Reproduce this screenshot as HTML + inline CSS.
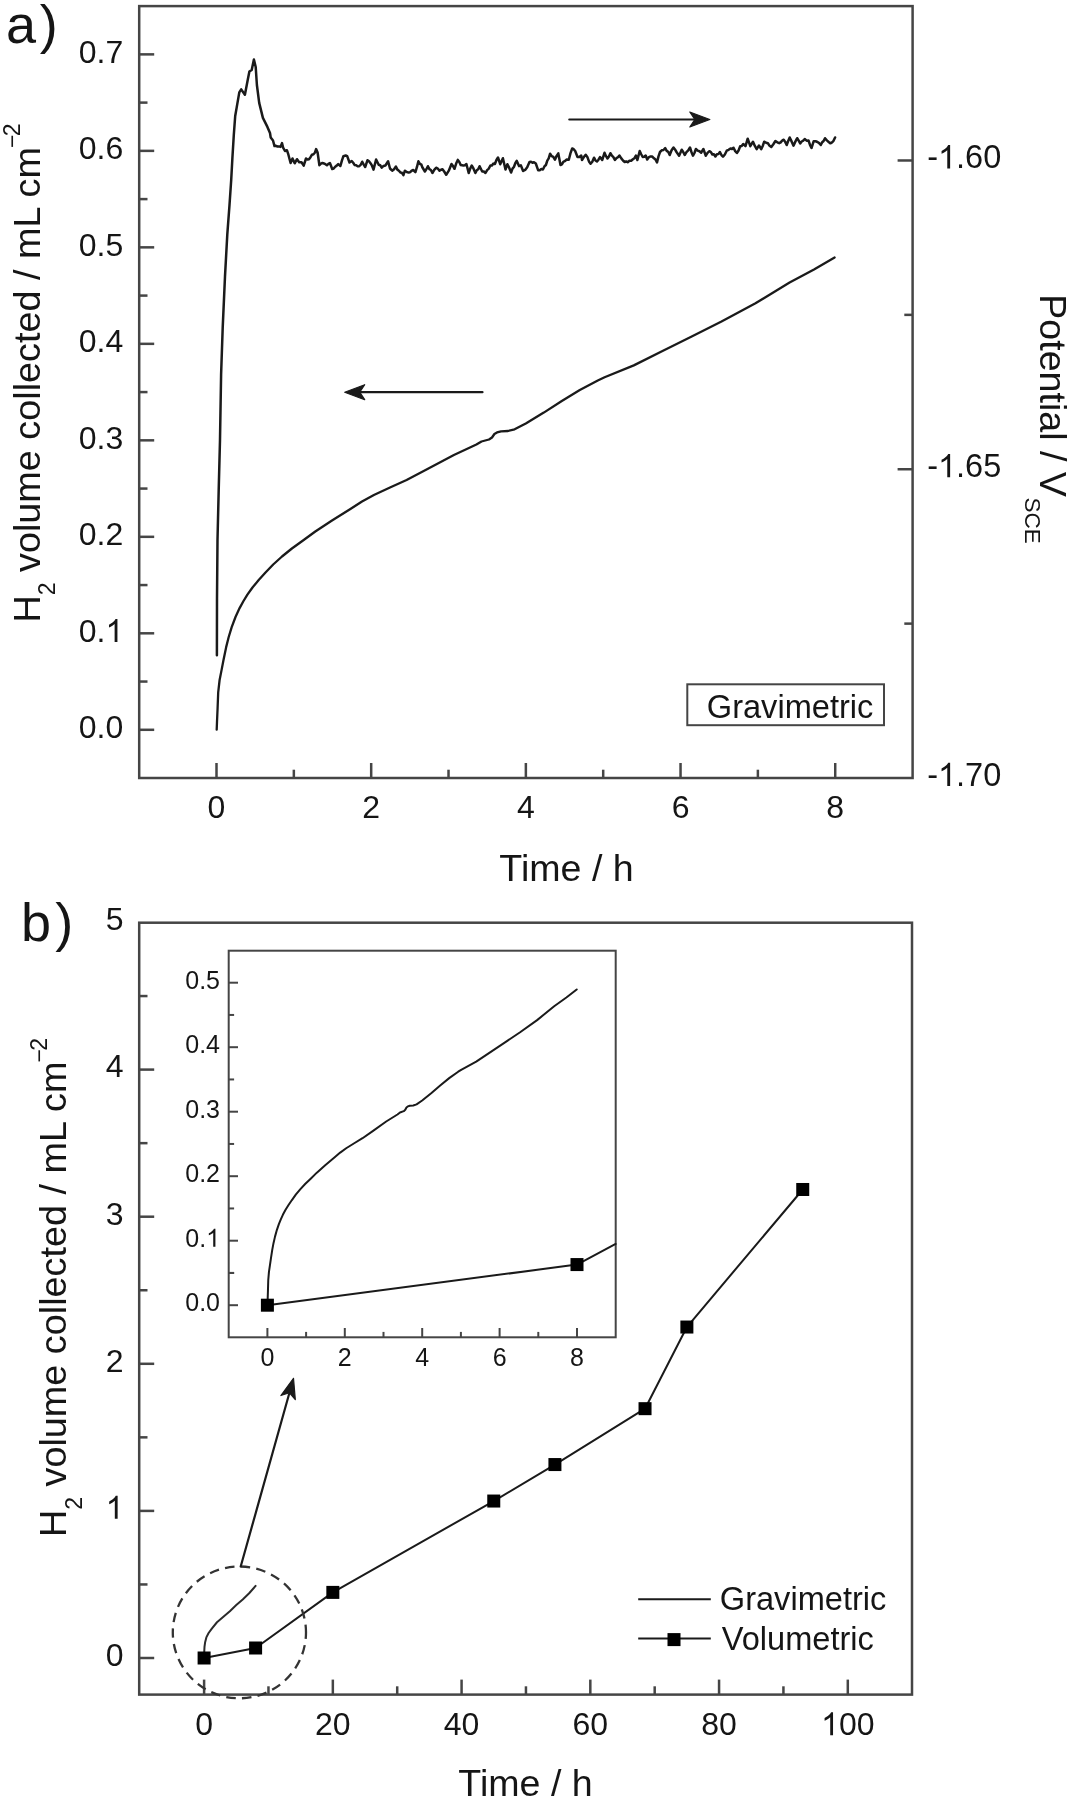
<!DOCTYPE html>
<html><head><meta charset="utf-8"><style>
html,body{margin:0;padding:0;background:#fff;width:1068px;height:1800px;overflow:hidden}
svg{display:block;font-family:"Liberation Sans", sans-serif;will-change:transform}
</style></head><body>
<svg width="1068" height="1800" viewBox="0 0 1068 1800">
<rect width="1068" height="1800" fill="#fff"/>
<rect x="139.2" y="6.1" width="773.40" height="771.90" fill="none" stroke="#454545" stroke-width="2.5"/>
<line x1="139.20" y1="729.80" x2="154.20" y2="729.80" stroke="#454545" stroke-width="2.5" stroke-linecap="butt"/>
<text x="78.82" y="738.40" font-size="32" text-anchor="start" fill="#151515" >0.0</text>
<line x1="139.20" y1="633.31" x2="154.20" y2="633.31" stroke="#454545" stroke-width="2.5" stroke-linecap="butt"/>
<text x="78.82" y="641.91" font-size="32" text-anchor="start" fill="#151515" >0.</text>
<path d="M763,0 L583,0 L583,1147 Q518,1085 465,1054 Q412,1023 359,992 Q306,961 223,930 L223,1104 Q372,1174 428,1224 Q484,1274 540,1324 Q596,1374 643,1472 L763,1472 Z" fill="#151515" transform="translate(105.51,641.91) scale(0.015625,-0.015625)"/>
<line x1="139.20" y1="536.82" x2="154.20" y2="536.82" stroke="#454545" stroke-width="2.5" stroke-linecap="butt"/>
<text x="78.82" y="545.42" font-size="32" text-anchor="start" fill="#151515" >0.2</text>
<line x1="139.20" y1="440.33" x2="154.20" y2="440.33" stroke="#454545" stroke-width="2.5" stroke-linecap="butt"/>
<text x="78.82" y="448.93" font-size="32" text-anchor="start" fill="#151515" >0.3</text>
<line x1="139.20" y1="343.84" x2="154.20" y2="343.84" stroke="#454545" stroke-width="2.5" stroke-linecap="butt"/>
<text x="78.82" y="352.44" font-size="32" text-anchor="start" fill="#151515" >0.4</text>
<line x1="139.20" y1="247.35" x2="154.20" y2="247.35" stroke="#454545" stroke-width="2.5" stroke-linecap="butt"/>
<text x="78.82" y="255.95" font-size="32" text-anchor="start" fill="#151515" >0.5</text>
<line x1="139.20" y1="150.86" x2="154.20" y2="150.86" stroke="#454545" stroke-width="2.5" stroke-linecap="butt"/>
<text x="78.82" y="159.46" font-size="32" text-anchor="start" fill="#151515" >0.6</text>
<line x1="139.20" y1="54.37" x2="154.20" y2="54.37" stroke="#454545" stroke-width="2.5" stroke-linecap="butt"/>
<text x="78.82" y="62.97" font-size="32" text-anchor="start" fill="#151515" >0.7</text>
<line x1="139.20" y1="681.55" x2="147.50" y2="681.55" stroke="#454545" stroke-width="2.5" stroke-linecap="butt"/>
<line x1="139.20" y1="585.06" x2="147.50" y2="585.06" stroke="#454545" stroke-width="2.5" stroke-linecap="butt"/>
<line x1="139.20" y1="488.57" x2="147.50" y2="488.57" stroke="#454545" stroke-width="2.5" stroke-linecap="butt"/>
<line x1="139.20" y1="392.08" x2="147.50" y2="392.08" stroke="#454545" stroke-width="2.5" stroke-linecap="butt"/>
<line x1="139.20" y1="295.59" x2="147.50" y2="295.59" stroke="#454545" stroke-width="2.5" stroke-linecap="butt"/>
<line x1="139.20" y1="199.10" x2="147.50" y2="199.10" stroke="#454545" stroke-width="2.5" stroke-linecap="butt"/>
<line x1="139.20" y1="102.61" x2="147.50" y2="102.61" stroke="#454545" stroke-width="2.5" stroke-linecap="butt"/>
<line x1="216.50" y1="778.00" x2="216.50" y2="763.00" stroke="#454545" stroke-width="2.5" stroke-linecap="butt"/>
<text x="207.60" y="817.60" font-size="32" text-anchor="start" fill="#151515" >0</text>
<line x1="371.18" y1="778.00" x2="371.18" y2="763.00" stroke="#454545" stroke-width="2.5" stroke-linecap="butt"/>
<text x="362.28" y="817.60" font-size="32" text-anchor="start" fill="#151515" >2</text>
<line x1="525.86" y1="778.00" x2="525.86" y2="763.00" stroke="#454545" stroke-width="2.5" stroke-linecap="butt"/>
<text x="516.96" y="817.60" font-size="32" text-anchor="start" fill="#151515" >4</text>
<line x1="680.54" y1="778.00" x2="680.54" y2="763.00" stroke="#454545" stroke-width="2.5" stroke-linecap="butt"/>
<text x="671.64" y="817.60" font-size="32" text-anchor="start" fill="#151515" >6</text>
<line x1="835.22" y1="778.00" x2="835.22" y2="763.00" stroke="#454545" stroke-width="2.5" stroke-linecap="butt"/>
<text x="826.32" y="817.60" font-size="32" text-anchor="start" fill="#151515" >8</text>
<line x1="293.84" y1="778.00" x2="293.84" y2="769.70" stroke="#454545" stroke-width="2.5" stroke-linecap="butt"/>
<line x1="448.52" y1="778.00" x2="448.52" y2="769.70" stroke="#454545" stroke-width="2.5" stroke-linecap="butt"/>
<line x1="603.20" y1="778.00" x2="603.20" y2="769.70" stroke="#454545" stroke-width="2.5" stroke-linecap="butt"/>
<line x1="757.88" y1="778.00" x2="757.88" y2="769.70" stroke="#454545" stroke-width="2.5" stroke-linecap="butt"/>
<line x1="912.60" y1="160.48" x2="897.60" y2="160.48" stroke="#454545" stroke-width="2.5" stroke-linecap="butt"/>
<text x="927.20" y="168.48" font-size="32.5" text-anchor="start" fill="#151515" >-</text>
<path d="M763,0 L583,0 L583,1147 Q518,1085 465,1054 Q412,1023 359,992 Q306,961 223,930 L223,1104 Q372,1174 428,1224 Q484,1274 540,1324 Q596,1374 643,1472 L763,1472 Z" fill="#151515" transform="translate(938.02,168.48) scale(0.015869,-0.015869)"/>
<text x="956.09" y="168.48" font-size="32.5" text-anchor="start" fill="#151515" >.60</text>
<line x1="912.60" y1="469.24" x2="897.60" y2="469.24" stroke="#454545" stroke-width="2.5" stroke-linecap="butt"/>
<text x="927.20" y="477.24" font-size="32.5" text-anchor="start" fill="#151515" >-</text>
<path d="M763,0 L583,0 L583,1147 Q518,1085 465,1054 Q412,1023 359,992 Q306,961 223,930 L223,1104 Q372,1174 428,1224 Q484,1274 540,1324 Q596,1374 643,1472 L763,1472 Z" fill="#151515" transform="translate(938.02,477.24) scale(0.015869,-0.015869)"/>
<text x="956.09" y="477.24" font-size="32.5" text-anchor="start" fill="#151515" >.65</text>
<text x="927.20" y="786.00" font-size="32.5" text-anchor="start" fill="#151515" >-</text>
<path d="M763,0 L583,0 L583,1147 Q518,1085 465,1054 Q412,1023 359,992 Q306,961 223,930 L223,1104 Q372,1174 428,1224 Q484,1274 540,1324 Q596,1374 643,1472 L763,1472 Z" fill="#151515" transform="translate(938.02,786.00) scale(0.015869,-0.015869)"/>
<text x="956.09" y="786.00" font-size="32.5" text-anchor="start" fill="#151515" >.70</text>
<line x1="912.60" y1="314.86" x2="904.30" y2="314.86" stroke="#454545" stroke-width="2.5" stroke-linecap="butt"/>
<line x1="912.60" y1="623.62" x2="904.30" y2="623.62" stroke="#454545" stroke-width="2.5" stroke-linecap="butt"/>
<text x="566.50" y="880.70" font-size="37.6" text-anchor="middle" fill="#151515" >Time / h</text>
<text transform="translate(39.5,622.6) rotate(-90)" font-size="37.8" fill="#151515">H<tspan font-size="23" dy="15.7">2</tspan><tspan dy="-15.7"> volume collected / mL cm</tspan><tspan font-size="23" dy="-19.4" dx="-1">−</tspan><tspan font-size="23" dx="-1.6">2</tspan></text>
<text transform="translate(1039.5,294.3) rotate(90)" font-size="37.6" fill="#151515">Potential / V<tspan font-size="22.5" dy="15" dx="0.5">SCE</tspan></text>
<text x="6.00" y="42.50" font-size="54" text-anchor="start" fill="#151515" >a<tspan dx="3.8">)</tspan></text>
<rect x="687.3" y="684.3" width="196.7" height="40.9" fill="none" stroke="#454545" stroke-width="2"/>
<text x="706.80" y="718.00" font-size="32.6" text-anchor="start" fill="#151515" >Gravimetric</text>
<line x1="569.30" y1="119.50" x2="694.80" y2="119.50" stroke="#1a1a1a" stroke-width="2.2" stroke-linecap="round"/>
<path d="M709.80,119.50 L689.80,127.00 L694.80,119.50 L689.80,112.00 Z" fill="#1a1a1a" stroke="#1a1a1a" stroke-width="1.2" stroke-linejoin="round"/>
<line x1="482.50" y1="392.20" x2="359.70" y2="392.20" stroke="#1a1a1a" stroke-width="2.2" stroke-linecap="round"/>
<path d="M344.70,392.20 L364.70,384.70 L359.70,392.20 L364.70,399.70 Z" fill="#1a1a1a" stroke="#1a1a1a" stroke-width="1.2" stroke-linejoin="round"/>
<path d="M216.90,655.30 L217.00,598.30 L217.50,540.00 L218.70,490.00 L220.00,440.00 L221.10,374.40 L222.70,327.70 L225.00,276.40 L227.30,234.40 L229.50,205.00 L231.20,180.00 L232.40,158.00 L233.80,135.00 L235.20,116.00 L236.70,107.40 L239.30,92.40 L241.20,89.40 L244.90,94.70 L247.90,79.00 L249.40,71.50 L251.70,70.00 L253.90,59.50 L255.70,67.00 L256.90,85.00 L259.20,102.90 L262.90,117.90 L267.40,126.90 L270.00,133.00 L270.70,137.50 L273.00,140.50 L274.50,146.10 L276.00,145.84 L277.50,146.50 L279.00,146.38 L280.50,146.90 L282.00,143.10 L283.10,147.60 L285.00,151.00 L286.90,150.20 L288.40,154.70 L290.60,163.00 L292.50,158.50 L294.70,163.30 L297.00,159.20 L299.20,162.20 L301.50,162.20 L303.70,165.60 L306.00,158.50 L307.50,159.57 L309.00,159.20 L310.50,157.21 L312.00,154.70 L313.50,154.23 L315.00,152.50 L316.10,149.10 L317.60,152.50 L319.40,165.20 L320.90,163.61 L322.40,163.00 L324.70,163.70 L326.90,165.20 L328.40,163.85 L329.90,163.00 L332.20,169.00 L333.70,168.46 L335.20,166.70 L336.70,165.63 L338.20,164.10 L340.40,166.00 L341.90,160.55 L343.40,156.20 L345.70,155.50 L347.20,156.10 L349.50,162.50 L351.70,161.00 L353.20,162.79 L354.70,165.10 L356.20,165.19 L357.70,166.37 L359.20,166.20 L360.70,164.81 L362.20,161.70 L363.70,164.65 L365.20,167.00 L367.50,160.20 L369.00,161.32 L370.50,163.20 L372.00,165.70 L373.50,169.60 L376.10,159.50 L378.70,164.70 L380.20,165.24 L381.70,167.70 L383.55,165.94 L385.40,165.50 L388.10,161.30 L390.00,168.50 L392.20,170.70 L394.05,169.17 L395.90,166.60 L397.40,169.63 L398.90,170.70 L400.40,172.44 L401.90,172.81 L403.40,175.20 L404.90,170.70 L406.80,172.08 L408.70,172.60 L410.20,172.05 L411.70,170.57 L413.20,170.00 L415.40,172.20 L416.90,167.20 L418.40,161.30 L419.90,163.85 L421.40,164.70 L422.20,167.00 L424.90,171.50 L426.40,169.19 L427.90,166.20 L429.40,169.13 L430.90,170.02 L432.40,173.00 L434.25,169.85 L436.10,167.70 L437.80,168.56 L439.50,170.70 L441.00,169.70 L442.50,169.20 L444.35,171.75 L446.20,174.80 L448.80,170.70 L451.50,164.00 L453.00,166.04 L454.50,168.80 L456.15,163.61 L457.80,159.90 L459.30,161.96 L460.80,165.10 L463.40,165.50 L464.90,165.20 L466.40,164.00 L468.70,173.00 L470.20,168.58 L471.70,165.50 L473.55,168.69 L475.40,173.00 L476.80,170.29 L478.20,169.30 L479.60,166.20 L482.20,171.50 L483.85,171.49 L485.50,173.00 L487.13,170.10 L488.77,168.66 L490.40,165.50 L491.90,165.62 L493.40,163.60 L494.90,164.00 L496.45,159.97 L498.00,157.50 L500.20,164.20 L502.90,158.20 L505.50,169.50 L507.40,164.20 L509.25,167.92 L511.10,172.50 L512.50,168.59 L513.90,166.94 L515.30,163.19 L516.70,160.80 L519.00,166.10 L520.80,165.30 L523.10,171.00 L525.15,169.91 L527.20,167.20 L529.50,162.00 L531.00,161.78 L532.50,162.79 L534.00,162.30 L535.80,163.50 L538.10,170.20 L539.70,170.20 L541.30,169.00 L542.90,169.50 L544.40,166.44 L545.90,165.00 L547.30,160.57 L548.70,158.37 L550.10,153.70 L551.70,156.15 L553.30,156.94 L554.90,159.70 L556.60,155.87 L558.30,153.40 L560.50,165.00 L561.90,164.40 L563.30,161.90 L564.70,161.20 L566.75,159.58 L568.80,159.70 L570.50,153.14 L572.20,148.50 L573.70,149.17 L575.20,151.00 L577.50,157.00 L579.35,156.98 L581.20,155.50 L582.00,160.00 L583.85,157.10 L585.70,154.70 L587.33,156.94 L588.97,161.42 L590.60,163.70 L592.30,161.69 L594.00,157.70 L595.50,160.46 L597.00,161.50 L598.50,159.68 L600.00,157.00 L602.20,160.00 L604.50,152.80 L606.00,156.16 L607.50,158.50 L608.95,156.58 L610.40,153.20 L611.90,155.68 L613.40,157.16 L614.90,160.00 L616.40,158.17 L617.90,157.29 L619.40,155.50 L621.30,158.35 L623.20,160.70 L624.70,162.01 L626.20,161.40 L627.70,162.20 L629.43,160.80 L631.17,160.71 L632.90,159.20 L634.40,158.25 L635.90,155.50 L637.40,160.00 L639.70,151.00 L641.20,154.26 L642.70,157.00 L644.20,156.81 L645.70,155.50 L647.20,159.50 L648.70,157.36 L650.20,156.50 L652.10,156.49 L654.00,158.30 L655.50,159.54 L657.00,162.50 L658.50,156.36 L660.00,152.00 L661.73,150.31 L663.47,150.00 L665.20,148.20 L666.70,150.95 L668.20,151.83 L669.70,155.00 L671.60,150.28 L673.50,147.50 L675.00,149.43 L676.50,152.00 L679.10,155.70 L681.70,149.70 L683.20,152.01 L684.70,155.00 L686.47,152.11 L688.23,150.39 L690.00,147.50 L691.50,152.19 L693.00,155.70 L694.45,153.02 L695.90,149.00 L697.67,150.64 L699.43,151.26 L701.20,152.70 L703.40,149.00 L705.70,155.70 L707.55,152.91 L709.40,151.20 L710.90,152.03 L712.40,154.50 L713.90,154.21 L715.40,156.50 L716.90,154.25 L718.40,154.11 L719.90,152.00 L721.45,155.04 L723.00,156.70 L724.85,154.44 L726.70,150.70 L728.60,149.84 L730.50,148.50 L732.00,149.02 L733.50,147.70 L735.20,151.17 L736.90,153.00 L738.55,150.50 L740.20,146.20 L741.70,145.94 L743.20,144.00 L745.50,146.20 L747.70,138.70 L750.30,146.20 L753.00,141.70 L754.85,145.96 L756.70,149.20 L759.00,145.50 L761.20,149.20 L762.70,145.97 L764.20,141.70 L766.05,142.73 L767.90,143.20 L769.60,145.81 L771.30,147.00 L773.35,144.25 L775.40,141.00 L777.30,142.35 L779.20,143.20 L780.70,142.40 L782.20,140.54 L783.70,139.70 L785.20,141.88 L786.70,145.00 L788.20,141.01 L789.70,137.50 L791.60,141.40 L793.50,145.70 L795.35,141.63 L797.20,138.20 L798.70,140.57 L800.20,143.50 L801.70,141.51 L803.20,140.72 L804.70,139.00 L806.60,140.65 L808.50,140.50 L810.00,144.94 L811.50,148.00 L813.70,141.20 L815.60,141.28 L817.50,142.00 L819.15,143.10 L820.80,145.00 L822.20,142.26 L823.60,140.96 L825.00,138.20 L826.85,140.40 L828.70,142.00 L830.20,143.23 L831.70,142.70 L833.40,141.09 L835.10,137.50" fill="none" stroke="#1a1a1a" stroke-width="2.5" stroke-linejoin="round" stroke-linecap="round" />
<path d="M216.70,729.60 L217.00,722.00 L217.60,708.00 L218.20,692.40 L219.60,680.00 L221.60,669.90 L223.50,660.00 L226.10,647.40 L228.70,637.00 L231.70,627.20 L235.50,617.00 L239.60,608.10 L243.50,601.00 L247.40,594.60 L252.50,587.50 L258.70,580.00 L265.50,572.50 L273.20,564.50 L282.00,556.50 L291.90,548.50 L303.00,540.50 L315.30,531.50 L332.00,520.50 L350.40,509.00 L362.00,501.50 L373.90,495.00 L390.00,487.50 L406.60,480.00 L427.00,469.30 L453.90,455.00 L476.40,444.50 L481.50,441.50 L489.00,439.50 L492.00,437.50 L494.40,434.00 L497.00,432.40 L501.10,431.40 L508.00,431.00 L514.60,429.30 L525.80,423.50 L543.80,412.60 L561.80,401.00 L579.80,390.10 L597.80,380.50 L604.60,377.30 L633.80,365.40 L663.00,350.80 L692.20,336.20 L721.50,321.50 L755.50,303.30 L789.60,282.60 L814.00,269.50 L834.60,257.50" fill="none" stroke="#1a1a1a" stroke-width="2.3" stroke-linejoin="round" stroke-linecap="round" />
<rect x="139.2" y="922.7" width="772.80" height="771.90" fill="none" stroke="#454545" stroke-width="2.5"/>
<line x1="139.20" y1="1658.00" x2="154.20" y2="1658.00" stroke="#454545" stroke-width="2.5" stroke-linecap="butt"/>
<text x="105.71" y="1665.80" font-size="32" text-anchor="start" fill="#151515" >0</text>
<line x1="139.20" y1="1510.90" x2="154.20" y2="1510.90" stroke="#454545" stroke-width="2.5" stroke-linecap="butt"/>
<path d="M763,0 L583,0 L583,1147 Q518,1085 465,1054 Q412,1023 359,992 Q306,961 223,930 L223,1104 Q372,1174 428,1224 Q484,1274 540,1324 Q596,1374 643,1472 L763,1472 Z" fill="#151515" transform="translate(105.71,1518.70) scale(0.015625,-0.015625)"/>
<line x1="139.20" y1="1363.80" x2="154.20" y2="1363.80" stroke="#454545" stroke-width="2.5" stroke-linecap="butt"/>
<text x="105.71" y="1371.60" font-size="32" text-anchor="start" fill="#151515" >2</text>
<line x1="139.20" y1="1216.70" x2="154.20" y2="1216.70" stroke="#454545" stroke-width="2.5" stroke-linecap="butt"/>
<text x="105.71" y="1224.50" font-size="32" text-anchor="start" fill="#151515" >3</text>
<line x1="139.20" y1="1069.60" x2="154.20" y2="1069.60" stroke="#454545" stroke-width="2.5" stroke-linecap="butt"/>
<text x="105.71" y="1077.40" font-size="32" text-anchor="start" fill="#151515" >4</text>
<text x="105.71" y="930.30" font-size="32" text-anchor="start" fill="#151515" >5</text>
<line x1="139.20" y1="1584.45" x2="147.50" y2="1584.45" stroke="#454545" stroke-width="2.5" stroke-linecap="butt"/>
<line x1="139.20" y1="1437.35" x2="147.50" y2="1437.35" stroke="#454545" stroke-width="2.5" stroke-linecap="butt"/>
<line x1="139.20" y1="1290.25" x2="147.50" y2="1290.25" stroke="#454545" stroke-width="2.5" stroke-linecap="butt"/>
<line x1="139.20" y1="1143.15" x2="147.50" y2="1143.15" stroke="#454545" stroke-width="2.5" stroke-linecap="butt"/>
<line x1="139.20" y1="996.05" x2="147.50" y2="996.05" stroke="#454545" stroke-width="2.5" stroke-linecap="butt"/>
<line x1="204.10" y1="1694.60" x2="204.10" y2="1679.60" stroke="#454545" stroke-width="2.5" stroke-linecap="butt"/>
<text x="195.20" y="1735.20" font-size="32" text-anchor="start" fill="#151515" >0</text>
<line x1="332.84" y1="1694.60" x2="332.84" y2="1679.60" stroke="#454545" stroke-width="2.5" stroke-linecap="butt"/>
<text x="315.05" y="1735.20" font-size="32" text-anchor="start" fill="#151515" >20</text>
<line x1="461.58" y1="1694.60" x2="461.58" y2="1679.60" stroke="#454545" stroke-width="2.5" stroke-linecap="butt"/>
<text x="443.79" y="1735.20" font-size="32" text-anchor="start" fill="#151515" >40</text>
<line x1="590.32" y1="1694.60" x2="590.32" y2="1679.60" stroke="#454545" stroke-width="2.5" stroke-linecap="butt"/>
<text x="572.53" y="1735.20" font-size="32" text-anchor="start" fill="#151515" >60</text>
<line x1="719.06" y1="1694.60" x2="719.06" y2="1679.60" stroke="#454545" stroke-width="2.5" stroke-linecap="butt"/>
<text x="701.27" y="1735.20" font-size="32" text-anchor="start" fill="#151515" >80</text>
<line x1="847.80" y1="1694.60" x2="847.80" y2="1679.60" stroke="#454545" stroke-width="2.5" stroke-linecap="butt"/>
<path d="M763,0 L583,0 L583,1147 Q518,1085 465,1054 Q412,1023 359,992 Q306,961 223,930 L223,1104 Q372,1174 428,1224 Q484,1274 540,1324 Q596,1374 643,1472 L763,1472 Z" fill="#151515" transform="translate(821.11,1735.20) scale(0.015625,-0.015625)"/>
<text x="838.90" y="1735.20" font-size="32" text-anchor="start" fill="#151515" >00</text>
<line x1="268.47" y1="1694.60" x2="268.47" y2="1686.30" stroke="#454545" stroke-width="2.5" stroke-linecap="butt"/>
<line x1="397.21" y1="1694.60" x2="397.21" y2="1686.30" stroke="#454545" stroke-width="2.5" stroke-linecap="butt"/>
<line x1="525.95" y1="1694.60" x2="525.95" y2="1686.30" stroke="#454545" stroke-width="2.5" stroke-linecap="butt"/>
<line x1="654.69" y1="1694.60" x2="654.69" y2="1686.30" stroke="#454545" stroke-width="2.5" stroke-linecap="butt"/>
<line x1="783.43" y1="1694.60" x2="783.43" y2="1686.30" stroke="#454545" stroke-width="2.5" stroke-linecap="butt"/>
<text x="525.50" y="1796.20" font-size="37.6" text-anchor="middle" fill="#151515" >Time / h</text>
<text transform="translate(65.9,1537.1) rotate(-90)" font-size="37.8" fill="#151515">H<tspan font-size="23" dy="15.7">2</tspan><tspan dy="-15.7"> volume collected / mL cm</tspan><tspan font-size="23" dy="-19.4" dx="-1">−</tspan><tspan font-size="23" dx="-1.6">2</tspan></text>
<text x="21.00" y="940.50" font-size="54" text-anchor="start" fill="#151515" >b<tspan dx="4.3">)</tspan></text>
<rect x="228.7" y="950.7" width="387.00" height="386.60" fill="none" stroke="#454545" stroke-width="2"/>
<line x1="228.70" y1="1305.20" x2="238.00" y2="1305.20" stroke="#454545" stroke-width="2" stroke-linecap="butt"/>
<text x="185.25" y="1311.20" font-size="25" text-anchor="start" fill="#151515" >0.0</text>
<line x1="228.70" y1="1240.70" x2="238.00" y2="1240.70" stroke="#454545" stroke-width="2" stroke-linecap="butt"/>
<text x="185.25" y="1246.70" font-size="25" text-anchor="start" fill="#151515" >0.</text>
<path d="M763,0 L583,0 L583,1147 Q518,1085 465,1054 Q412,1023 359,992 Q306,961 223,930 L223,1104 Q372,1174 428,1224 Q484,1274 540,1324 Q596,1374 643,1472 L763,1472 Z" fill="#151515" transform="translate(206.10,1246.70) scale(0.012207,-0.012207)"/>
<line x1="228.70" y1="1176.20" x2="238.00" y2="1176.20" stroke="#454545" stroke-width="2" stroke-linecap="butt"/>
<text x="185.25" y="1182.20" font-size="25" text-anchor="start" fill="#151515" >0.2</text>
<line x1="228.70" y1="1111.70" x2="238.00" y2="1111.70" stroke="#454545" stroke-width="2" stroke-linecap="butt"/>
<text x="185.25" y="1117.70" font-size="25" text-anchor="start" fill="#151515" >0.3</text>
<line x1="228.70" y1="1047.20" x2="238.00" y2="1047.20" stroke="#454545" stroke-width="2" stroke-linecap="butt"/>
<text x="185.25" y="1053.20" font-size="25" text-anchor="start" fill="#151515" >0.4</text>
<line x1="228.70" y1="982.70" x2="238.00" y2="982.70" stroke="#454545" stroke-width="2" stroke-linecap="butt"/>
<text x="185.25" y="988.70" font-size="25" text-anchor="start" fill="#151515" >0.5</text>
<line x1="228.70" y1="1272.95" x2="234.10" y2="1272.95" stroke="#454545" stroke-width="2" stroke-linecap="butt"/>
<line x1="228.70" y1="1208.45" x2="234.10" y2="1208.45" stroke="#454545" stroke-width="2" stroke-linecap="butt"/>
<line x1="228.70" y1="1143.95" x2="234.10" y2="1143.95" stroke="#454545" stroke-width="2" stroke-linecap="butt"/>
<line x1="228.70" y1="1079.45" x2="234.10" y2="1079.45" stroke="#454545" stroke-width="2" stroke-linecap="butt"/>
<line x1="228.70" y1="1014.95" x2="234.10" y2="1014.95" stroke="#454545" stroke-width="2" stroke-linecap="butt"/>
<line x1="228.70" y1="1272.95" x2="234.10" y2="1272.95" stroke="#454545" stroke-width="2" stroke-linecap="butt"/>
<line x1="267.40" y1="1337.30" x2="267.40" y2="1328.00" stroke="#454545" stroke-width="2" stroke-linecap="butt"/>
<text x="260.45" y="1365.80" font-size="25" text-anchor="start" fill="#151515" >0</text>
<line x1="344.80" y1="1337.30" x2="344.80" y2="1328.00" stroke="#454545" stroke-width="2" stroke-linecap="butt"/>
<text x="337.85" y="1365.80" font-size="25" text-anchor="start" fill="#151515" >2</text>
<line x1="422.20" y1="1337.30" x2="422.20" y2="1328.00" stroke="#454545" stroke-width="2" stroke-linecap="butt"/>
<text x="415.25" y="1365.80" font-size="25" text-anchor="start" fill="#151515" >4</text>
<line x1="499.60" y1="1337.30" x2="499.60" y2="1328.00" stroke="#454545" stroke-width="2" stroke-linecap="butt"/>
<text x="492.65" y="1365.80" font-size="25" text-anchor="start" fill="#151515" >6</text>
<line x1="577.00" y1="1337.30" x2="577.00" y2="1328.00" stroke="#454545" stroke-width="2" stroke-linecap="butt"/>
<text x="570.05" y="1365.80" font-size="25" text-anchor="start" fill="#151515" >8</text>
<line x1="306.10" y1="1337.30" x2="306.10" y2="1331.90" stroke="#454545" stroke-width="2" stroke-linecap="butt"/>
<line x1="383.50" y1="1337.30" x2="383.50" y2="1331.90" stroke="#454545" stroke-width="2" stroke-linecap="butt"/>
<line x1="460.90" y1="1337.30" x2="460.90" y2="1331.90" stroke="#454545" stroke-width="2" stroke-linecap="butt"/>
<line x1="538.30" y1="1337.30" x2="538.30" y2="1331.90" stroke="#454545" stroke-width="2" stroke-linecap="butt"/>
<path d="M267.50,1305.07 L267.65,1299.99 L267.95,1290.63 L268.25,1280.20 L268.95,1271.91 L269.95,1265.16 L270.90,1258.54 L272.20,1250.12 L273.50,1243.17 L275.01,1236.62 L276.91,1229.80 L278.96,1223.85 L280.91,1219.10 L282.86,1214.82 L285.41,1210.08 L288.52,1205.06 L291.92,1200.05 L295.77,1194.70 L300.18,1189.36 L305.13,1184.01 L310.68,1178.66 L316.84,1172.64 L325.19,1165.29 L334.40,1157.60 L340.21,1152.59 L346.16,1148.24 L354.22,1143.23 L362.52,1138.22 L372.73,1131.07 L386.19,1121.51 L397.45,1114.49 L400.00,1112.48 L403.76,1111.15 L405.26,1109.81 L406.46,1107.47 L407.76,1106.40 L409.81,1105.73 L413.26,1105.46 L416.57,1104.33 L422.17,1100.45 L431.18,1093.16 L440.18,1085.41 L449.19,1078.12 L458.20,1071.71 L461.60,1069.57 L476.21,1061.61 L490.82,1051.85 L505.43,1042.09 L520.10,1032.27 L537.11,1020.10 L554.17,1006.26 L566.38,997.51 L576.69,989.48" fill="none" stroke="#1a1a1a" stroke-width="2.0" stroke-linejoin="round" stroke-linecap="round" />
<path d="M267.40,1305.20 L577.00,1264.57 L615.70,1243.98" fill="none" stroke="#1a1a1a" stroke-width="2.0" stroke-linejoin="round" stroke-linecap="round" />
<rect x="260.90" y="1298.70" width="13" height="13" fill="#000"/>
<rect x="570.50" y="1258.07" width="13" height="13" fill="#000"/>
<path d="M204.10,1658.00 L204.23,1652.12 L204.49,1646.97 L205.07,1642.55 L206.35,1637.41 L208.61,1632.99 L211.82,1628.58 L216.97,1622.25 L223.41,1616.81 L229.85,1611.22 L236.28,1605.04 L242.72,1599.45 L249.16,1593.28 L255.60,1585.92" fill="none" stroke="#2a2a2a" stroke-width="2.0" stroke-linejoin="round" stroke-linecap="round" />
<path d="M204.10,1658.00 L255.60,1648.00 L332.84,1592.39 L493.76,1501.04 L554.92,1464.56 L645.03,1408.67 L686.88,1327.03 L802.74,1189.49" fill="none" stroke="#1a1a1a" stroke-width="2.0" stroke-linejoin="round" stroke-linecap="round" />
<rect x="197.60" y="1651.50" width="13" height="13" fill="#000"/>
<rect x="249.10" y="1641.50" width="13" height="13" fill="#000"/>
<rect x="326.34" y="1585.89" width="13" height="13" fill="#000"/>
<rect x="487.26" y="1494.54" width="13" height="13" fill="#000"/>
<rect x="548.42" y="1458.06" width="13" height="13" fill="#000"/>
<rect x="638.53" y="1402.17" width="13" height="13" fill="#000"/>
<rect x="680.38" y="1320.53" width="13" height="13" fill="#000"/>
<rect x="796.24" y="1182.99" width="13" height="13" fill="#000"/>
<ellipse cx="239.4" cy="1632.4" rx="66.6" ry="65.9" fill="none" stroke="#333" stroke-width="2.3" stroke-dasharray="9.5 6.3" stroke-dashoffset="3"/>
<line x1="240.70" y1="1566.50" x2="289.45" y2="1392.74" stroke="#1a1a1a" stroke-width="2.2" stroke-linecap="round"/>
<path d="M293.50,1378.30 L295.32,1399.58 L289.45,1392.74 L280.88,1395.53 Z" fill="#1a1a1a" stroke="#1a1a1a" stroke-width="1.2" stroke-linejoin="round"/>
<line x1="638.20" y1="1599.20" x2="710.80" y2="1599.20" stroke="#1a1a1a" stroke-width="2.0" stroke-linecap="butt"/>
<text x="719.80" y="1610.00" font-size="32.6" text-anchor="start" fill="#151515" >Gravimetric</text>
<line x1="638.20" y1="1638.60" x2="710.80" y2="1638.60" stroke="#1a1a1a" stroke-width="2.0" stroke-linecap="butt"/>
<rect x="667.5" y="1633.1" width="13" height="13" fill="#000"/>
<text x="721.80" y="1649.80" font-size="32.6" text-anchor="start" fill="#151515" >Volumetric</text>
</svg>
</body></html>
